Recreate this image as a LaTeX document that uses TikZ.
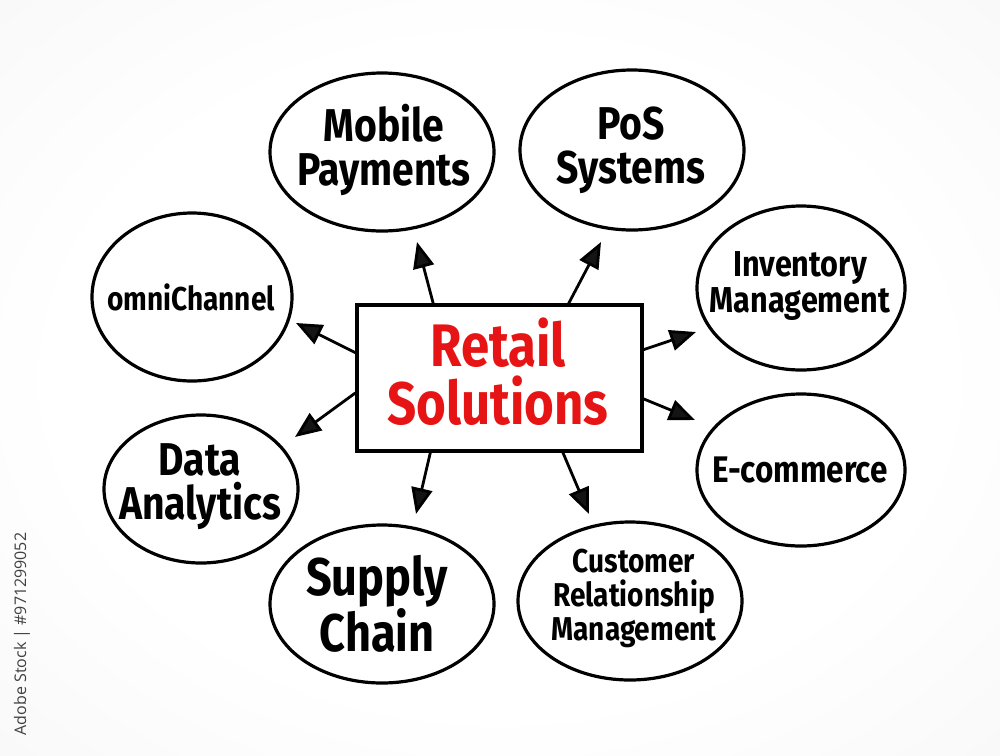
\documentclass[tikz,border=0pt]{standalone}
\usepackage{fontspec}
\setmainfont{Fira Sans}
\newfontfamily\hand[FakeStretch=0.85]{Fira Sans Bold}
\newfontfamily\wm{Open Sans}
\usetikzlibrary{arrows.meta,calc}
\pgfdeclareradialshading{paper}{\pgfpoint{0bp}{0bp}}{color(0bp)=(white); color(22bp)=(white); color(50bp)=(black!5); color(71bp)=(black!9)}
\tikzset{
  bubble/.style={draw=black, line width=3.2pt},
  htext/.style={align=center, text=black, inner sep=0pt},
  link/.style={line width=2.8pt, line cap=round, -{Triangle[length=26pt,width=21pt,fill=black!92]}},
  centre/.style={draw=black, line width=3.2pt, fill=white, inner sep=0pt}
}
\newcommand{\hs}[2]{\hand\fontsize{#1}{#2}\selectfont}
\begin{document}
\begin{tikzpicture}[x=1pt,y=-1pt]
\useasboundingbox (0,0) rectangle (1000,755);
\shade[shading=paper] (0,0) rectangle (1000,755);

% bubbles
\draw[bubble] (382,152) ellipse [x radius=112, y radius=79];
\draw[bubble] (632,150) ellipse [x radius=112, y radius=80];
\draw[bubble] (801,288) ellipse [x radius=104, y radius=82];
\draw[bubble] (801,470) ellipse [x radius=104, y radius=76];
\draw[bubble] (630,601) ellipse [x radius=112, y radius=79];
\draw[bubble] (382,604) ellipse [x radius=112, y radius=79];
\draw[bubble] (201,489) ellipse [x radius=97, y radius=74];
\draw[bubble] (192,297) ellipse [x radius=100, y radius=84];

% bubble texts
\node[htext, font=\hs{46}{44}] (mob) at (384,150) {Mobile\\Payments};
\node[htext, font=\hs{46}{44}] (pos) at (631,150) {PoS\\Systems};
\node[htext, font=\hs{36}{36}] (inv) at (800,286) {Inventory\\Management};
\node[htext, font=\hs{37}{40}] (eco) at (800,470) {E-commerce};
\node[htext, font=\hs{33}{34}] (crm) at (634,598) {Customer\\Relationship\\Management};
\node[htext, font=\hs{53}{54}] (sup) at (377,604) {Supply\\Chain};
\node[htext, font=\hs{46}{44}] (dat) at (200,487) {Data\\Analytics};
\node[htext, font=\hs{33}{36}] (omn) at (191,297) {omniChannel};

% centre
\node[centre, minimum width=285pt, minimum height=146pt] (rect) at (499.5,378) {};
\node[htext, text={rgb,255:red,230;green,20;blue,20}, font=\hs{60}{58}] (title) at (498,372) {Retail\\Solutions};

% arrow tips
\coordinate (t1) at (417,242);
\coordinate (t2) at (601,242);
\coordinate (t3) at (696,332);
\coordinate (t4) at (695,420);
\coordinate (t5) at (589,514);
\coordinate (t6) at (416,514);
\coordinate (t7) at (295,437);
\coordinate (t8) at (296,323);

\draw[link] ($(rect.north west)!0.27!(rect.north east)$) -- (t1);
\draw[link] ($(rect.north west)!0.74!(rect.north east)$) -- (t2);
\draw[link] ($(rect.north east)!0.31!(rect.south east)$) -- (t3);
\draw[link] ($(rect.north east)!0.64!(rect.south east)$) -- (t4);
\draw[link] ($(rect.south west)!0.72!(rect.south east)$) -- (t5);
\draw[link] ($(rect.south west)!0.26!(rect.south east)$) -- (t6);
\draw[link] ($(rect.north west)!0.60!(rect.south west)$) -- (t7);
\draw[link] ($(rect.north west)!0.33!(rect.south west)$) -- (t8);

% stock id
\node[rotate=90, font=\wm\fontsize{16}{18}\selectfont, text=black!75, inner sep=0pt] (sid) at (22,634) {Adobe Stock | \#971299052};
\end{tikzpicture}
\end{document}
